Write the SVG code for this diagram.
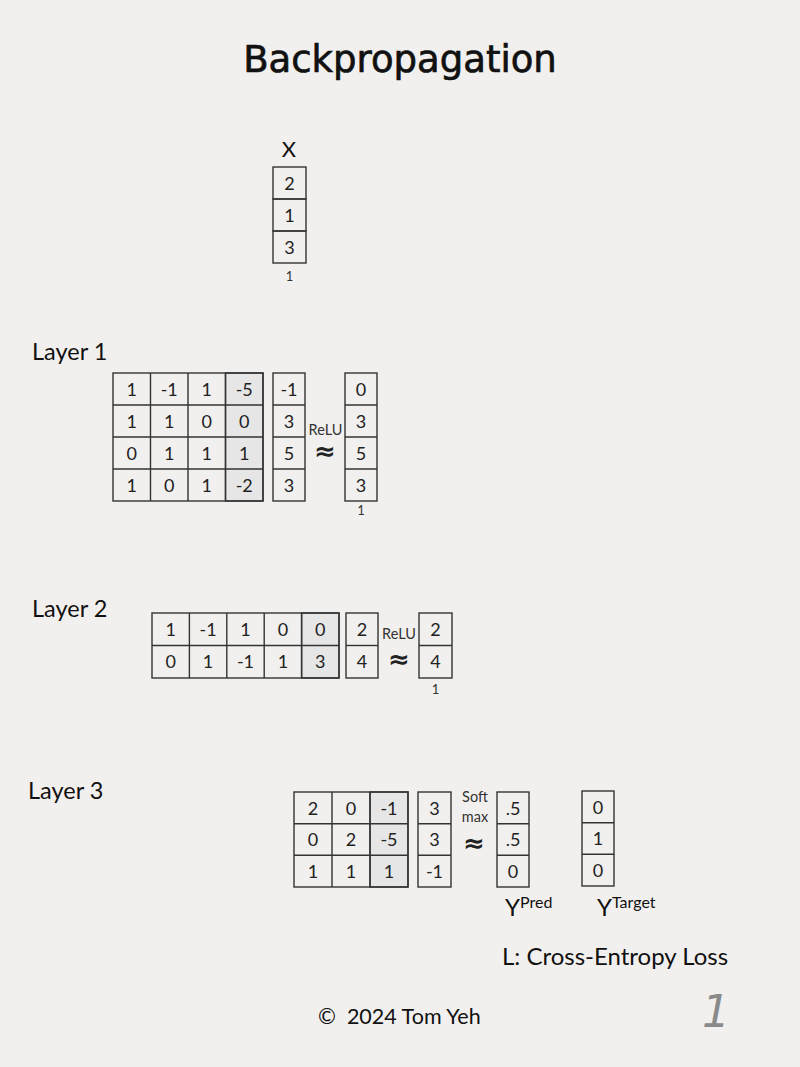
<svg xmlns="http://www.w3.org/2000/svg" width="800" height="1067" viewBox="0 0 800 1067">
<defs>
<style>
.bg{fill:#f1f0ee}
.c{fill:none;stroke:#333;stroke-width:1.4}
.s{fill:#e6e6e6;stroke:#333;stroke-width:1.4}
.n{font-family:Lato,"Open Sans",sans-serif;font-size:18px;fill:#222;text-anchor:middle}
.lbl{font-family:Lato,"Open Sans",sans-serif;font-size:23.5px;fill:#111}
.sm{font-family:Lato,"Open Sans",sans-serif;font-size:13px;fill:#333;text-anchor:middle}
.op{font-family:Lato,"Open Sans",sans-serif;font-size:14.5px;fill:#333;text-anchor:middle}
.ap{font-family:"DejaVu Sans",sans-serif;font-size:26px;font-weight:bold;fill:#222;text-anchor:middle}
</style>
</defs>
<rect class="bg" x="0" y="0" width="800" height="1067"/>
<text x="400" y="72" font-family="'DejaVu Sans',sans-serif" font-size="37" fill="#111" stroke="#111" stroke-width="0.7" text-anchor="middle">Backpropagation</text>

<g id="input-x">
<text x="289" y="157" font-family="Lato,sans-serif" font-size="22" fill="#111" text-anchor="middle">X</text>
<rect class="c" x="273" y="167" width="33" height="32"/>
<rect class="c" x="273" y="199" width="33" height="32"/>
<rect class="c" x="273" y="231" width="33" height="32"/>
<text class="n" x="289.5" y="189.5">2</text>
<text class="n" x="289.5" y="221.5">1</text>
<text class="n" x="289.5" y="253.5">3</text>
<text class="sm" x="289.5" y="281">1</text>
</g>

<g id="layer1">
<text class="lbl" x="32" y="360">Layer 1</text>
<g id="layer1-weights">
<rect class="s" x="225.5" y="373" width="37.5" height="128"/>
<rect class="c" x="113" y="373" width="150" height="128"/>
<path class="c" d="M150.5 373V501M188 373V501M225.5 373V501M113 405H263M113 437H263M113 469H263"/>
<text class="n" x="131.75" y="395.5">1</text><text class="n" x="169.25" y="395.5">-1</text><text class="n" x="206.75" y="395.5">1</text><text class="n" x="244.25" y="395.5">-5</text>
<text class="n" x="131.75" y="427.5">1</text><text class="n" x="169.25" y="427.5">1</text><text class="n" x="206.75" y="427.5">0</text><text class="n" x="244.25" y="427.5">0</text>
<text class="n" x="131.75" y="459.5">0</text><text class="n" x="169.25" y="459.5">1</text><text class="n" x="206.75" y="459.5">1</text><text class="n" x="244.25" y="459.5">1</text>
<text class="n" x="131.75" y="491.5">1</text><text class="n" x="169.25" y="491.5">0</text><text class="n" x="206.75" y="491.5">1</text><text class="n" x="244.25" y="491.5">-2</text>
</g>
<g id="layer1-z">
<rect class="c" x="273" y="373" width="32" height="128"/>
<path class="c" d="M273 405H305M273 437H305M273 469H305"/>
<text class="n" x="289" y="395.5">-1</text><text class="n" x="289" y="427.5">3</text><text class="n" x="289" y="459.5">5</text><text class="n" x="289" y="491.5">3</text>
</g>
<text class="op" x="325.5" y="435">ReLU</text>
<text class="ap" x="325" y="460">≈</text>
<g id="layer1-out">
<rect class="c" x="345" y="373" width="32" height="128"/>
<path class="c" d="M345 405H377M345 437H377M345 469H377"/>
<text class="n" x="361" y="395.5">0</text><text class="n" x="361" y="427.5">3</text><text class="n" x="361" y="459.5">5</text><text class="n" x="361" y="491.5">3</text>
<text class="sm" x="361" y="515">1</text>
</g>
</g>

<g id="layer2">
<text class="lbl" x="32" y="617">Layer 2</text>
<g id="layer2-weights">
<rect class="s" x="301.6" y="613" width="37.4" height="65"/>
<rect class="c" x="152" y="613" width="187" height="65"/>
<path class="c" d="M189.4 613V678M226.8 613V678M264.2 613V678M301.6 613V678M152 645.5H339"/>
<text class="n" x="170.7" y="635.5">1</text><text class="n" x="208.1" y="635.5">-1</text><text class="n" x="245.5" y="635.5">1</text><text class="n" x="282.9" y="635.5">0</text><text class="n" x="320.3" y="635.5">0</text>
<text class="n" x="170.7" y="668">0</text><text class="n" x="208.1" y="668">1</text><text class="n" x="245.5" y="668">-1</text><text class="n" x="282.9" y="668">1</text><text class="n" x="320.3" y="668">3</text>
</g>
<g id="layer2-z">
<rect class="c" x="346" y="613" width="32" height="65"/>
<path class="c" d="M346 645.5H378"/>
<text class="n" x="362" y="635.5">2</text><text class="n" x="362" y="668">4</text>
</g>
<text class="op" x="399" y="639">ReLU</text>
<text class="ap" x="399" y="668">≈</text>
<g id="layer2-out">
<rect class="c" x="419" y="613" width="33" height="65"/>
<path class="c" d="M419 645.5H452"/>
<text class="n" x="435.5" y="635.5">2</text><text class="n" x="435.5" y="668">4</text>
<text class="sm" x="435.5" y="694">1</text>
</g>
</g>

<g id="layer3">
<text class="lbl" x="28" y="799">Layer 3</text>
<g id="layer3-weights">
<rect class="s" x="370" y="792" width="38" height="95"/>
<rect class="c" x="294" y="792" width="114" height="95"/>
<path class="c" d="M332 792V887M370 792V887M294 823.7H408M294 855.3H408"/>
<text class="n" x="313" y="814.5">2</text><text class="n" x="351" y="814.5">0</text><text class="n" x="389" y="814.5">-1</text>
<text class="n" x="313" y="846">0</text><text class="n" x="351" y="846">2</text><text class="n" x="389" y="846">-5</text>
<text class="n" x="313" y="877.5">1</text><text class="n" x="351" y="877.5">1</text><text class="n" x="389" y="877.5">1</text>
</g>
<g id="layer3-z">
<rect class="c" x="418" y="792" width="33" height="95"/>
<path class="c" d="M418 823.7H451M418 855.3H451"/>
<text class="n" x="434.5" y="814.5">3</text><text class="n" x="434.5" y="846">3</text><text class="n" x="434.5" y="877.5">-1</text>
</g>
<text class="op" x="475" y="802">Soft</text>
<text class="op" x="475" y="822">max</text>
<text class="ap" x="474" y="852">≈</text>
<g id="y-pred">
<rect class="c" x="497" y="792" width="32" height="95"/>
<path class="c" d="M497 823.7H529M497 855.3H529"/>
<text class="n" x="513" y="814.5">.5</text><text class="n" x="513" y="846">.5</text><text class="n" x="513" y="877.5">0</text>
<text x="505" y="916" font-family="Lato,sans-serif" font-size="24" fill="#111">Y<tspan font-size="16" dy="-8">Pred</tspan></text>
</g>
<g id="y-target">
<rect class="c" x="582" y="791" width="32" height="95"/>
<path class="c" d="M582 822.7H614M582 854.3H614"/>
<text class="n" x="598" y="813.5">0</text><text class="n" x="598" y="845">1</text><text class="n" x="598" y="876.5">0</text>
<text x="597" y="916" font-family="Lato,sans-serif" font-size="24" fill="#111">Y<tspan font-size="16" dy="-8">Target</tspan></text>
</g>
</g>

<text x="502" y="965" font-family="Lato,'Open Sans',sans-serif" font-size="24" fill="#111">L: Cross-Entropy Loss</text>
<text x="318" y="1024" font-family="Lato,sans-serif" font-size="21.5" fill="#111" xml:space="preserve">©  2024 Tom Yeh</text>
<text x="716" y="1027" font-family="'DejaVu Sans',sans-serif" font-size="44" fill="#8a8a8a" text-anchor="middle" font-style="italic">1</text>
</svg>
